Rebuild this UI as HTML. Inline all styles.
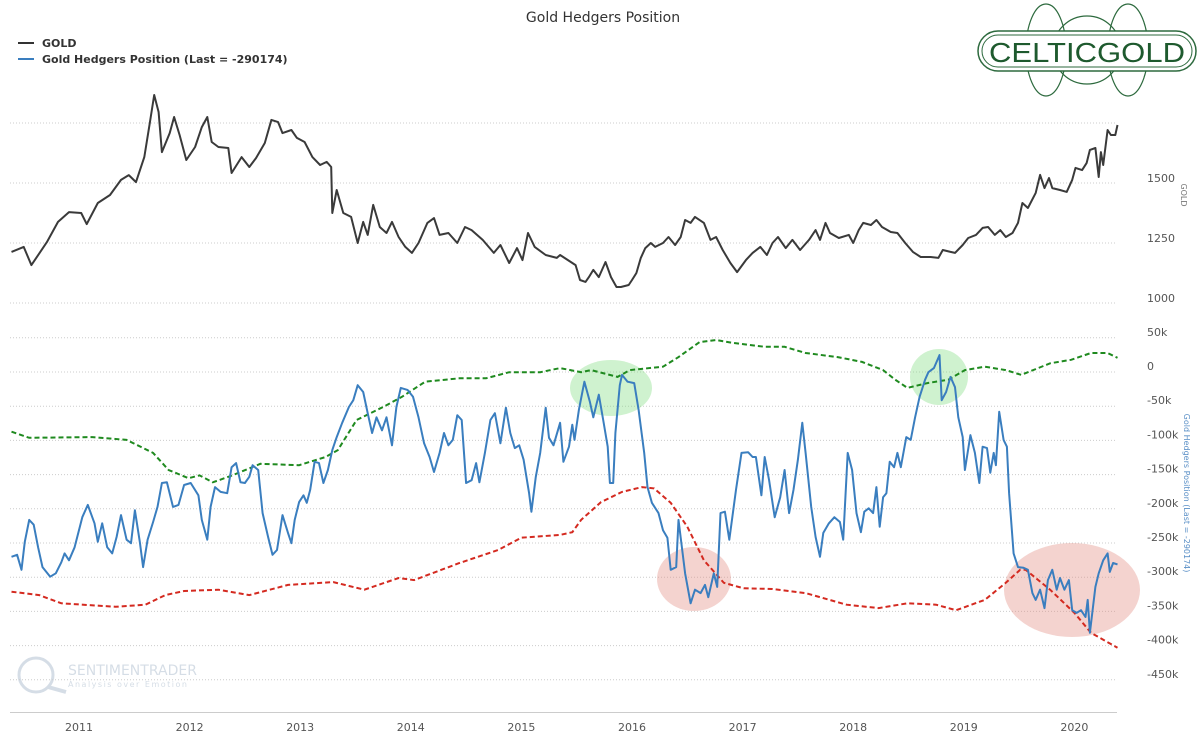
<!DOCTYPE html>
<html><head><meta charset="utf-8">
<style>
html,body{margin:0;padding:0;background:#fff;width:1200px;height:750px;overflow:hidden;font-family:"DejaVu Sans","Liberation Sans",sans-serif;}
</style></head>
<body>
<svg id="chart" width="1200" height="750" viewBox="0 0 1200 750" xmlns="http://www.w3.org/2000/svg" font-family="DejaVu Sans, Liberation Sans, sans-serif">
<text x="603" y="22" text-anchor="middle" font-size="14" fill="#333">Gold Hedgers Position</text>
<g font-size="11" font-weight="bold" fill="#333">
<g><line x1="18" y1="43" x2="34" y2="43" stroke="#333" stroke-width="2"/><text x="42" y="47">GOLD</text></g>
<g><line x1="18" y1="59" x2="34" y2="59" stroke="#3a7ebf" stroke-width="2"/><text x="42" y="63">Gold Hedgers Position (Last = -290174)</text></g>
</g>
<g>
<ellipse cx="1046" cy="50" rx="20" ry="46" fill="none" stroke="#2d6a3e" stroke-width="1.2"/>
<ellipse cx="1128" cy="50" rx="20" ry="46" fill="none" stroke="#2d6a3e" stroke-width="1.2"/>
<ellipse cx="1087" cy="50" rx="34" ry="34" fill="none" stroke="#2d6a3e" stroke-width="1.2"/>
<rect x="978" y="31" width="218" height="40" rx="20" fill="#fff" stroke="#2d6a3e" stroke-width="1.5"/>
<rect x="982" y="35" width="210" height="32" rx="16" fill="none" stroke="#2d6a3e" stroke-width="1"/>
<text x="1087" y="62" text-anchor="middle" font-family="Liberation Sans, sans-serif" font-size="28" fill="#1e5a2e" textLength="196" lengthAdjust="spacingAndGlyphs">CELTICGOLD</text>
</g>
<g opacity="0.35">
<circle cx="36" cy="675" r="17" fill="none" stroke="#8aa0b8" stroke-width="3"/>
<line x1="48" y1="687" x2="66" y2="692" stroke="#8aa0b8" stroke-width="4"/>
<text x="68" y="675" font-size="14" fill="#8aa0b8">SENTIMENTRADER</text>
<text x="68" y="687" font-size="8" fill="#8aa0b8" letter-spacing="1.5">Analysis over Emotion</text>
</g>
<g id="grid"></g>
<g id="highlights">
<ellipse cx="611" cy="388" rx="41" ry="28" fill="rgba(130,220,130,0.38)"/>
<ellipse cx="939" cy="377" rx="29" ry="28" fill="rgba(130,220,130,0.38)"/>
<ellipse cx="694" cy="579" rx="37" ry="32" fill="rgba(225,140,130,0.38)"/>
<ellipse cx="1072" cy="590" rx="68" ry="47" fill="rgba(225,140,130,0.38)"/>
</g>
<g id="series"></g>
<g id="axes" font-size="11" fill="#555"></g>
<text transform="translate(1181,195) rotate(90)" text-anchor="middle" font-size="8" fill="#777">GOLD</text>
<text transform="translate(1184,493) rotate(90)" text-anchor="middle" font-size="8" fill="#5a8fc6">Gold Hedgers Position (Last = -290174)</text>
</svg>
<script>
const goldDates=[2010.39,2010.50,2010.57,2010.71,2010.81,2010.91,2011.02,2011.07,2011.17,2011.28,2011.38,2011.45,2011.515,2011.59,2011.64,2011.68,2011.72,2011.75,2011.82,2011.86,2011.91,2011.97,2012.05,2012.11,2012.16,2012.20,2012.26,2012.35,2012.38,2012.47,2012.54,2012.60,2012.68,2012.74,2012.80,2012.84,2012.92,2012.97,2013.04,2013.11,2013.18,2013.24,2013.28,2013.29,2013.33,2013.39,2013.46,2013.52,2013.57,2013.61,2013.66,2013.72,2013.78,2013.83,2013.89,2013.95,2014.01,2014.07,2014.15,2014.21,2014.26,2014.34,2014.42,2014.49,2014.55,2014.65,2014.75,2014.81,2014.89,2014.96,2015.01,2015.06,2015.12,2015.22,2015.32,
2015.35,2015.49,2015.53,2015.58,2015.61,2015.65,2015.70,2015.76,2015.81,2015.86,2015.90,2015.97,2016.00,2016.04,2016.08,2016.12,2016.17,2016.21,2016.28,2016.33,2016.39,2016.44,2016.48,2016.53,2016.57,2016.65,2016.71,2016.76,2016.82,2016.89,2016.95,2017.03,2017.09,2017.16,2017.22,2017.27,2017.32,2017.39,2017.45,2017.52,2017.60,2017.66,2017.70,2017.75,2017.79,2017.87,2017.96,2018.00,2018.05,2018.09,2018.16,2018.21,2018.26,2018.34,2018.40,2018.47,2018.54,2018.61,2018.70,2018.77,2018.81,2018.88,2018.92,2018.99,2019.04,2019.11,2019.17,2019.22,2019.28,2019.33,2019.38,2019.44,2019.49,2019.53,2019.58,2019.65,2019.69,2019.73,2019.77,2019.80,2019.87,2019.93,2019.98,2020.01,2020.07,2020.11,2020.14,2020.19,2020.22,2020.24,2020.26,2020.30,2020.33,2020.37,2020.39];
const goldValues=[1192,1213,1137,1233,1317,1358,1354,1308,1396,1429,1492,1512,1483,1587,1729,1846,1775,1608,1687,1754,1679,1575,1629,1712,1754,1650,1629,1625,1521,1587,1546,1583,1646,1742,1733,1687,1700,1667,1650,1587,1554,1567,1546,1354,1450,1354,1338,1229,1317,1263,1388,1296,1271,1317,1254,1213,1188,1229,1313,1333,1263,1271,1229,1296,1283,1242,1188,1221,1146,1208,1158,1271,1213,1179,1167,
1179,1137,1075,1067,1087,1117,1087,1150,1087,1046,1046,1054,1075,1104,1167,1208,1229,1213,1229,1254,1221,1254,1325,1313,1338,1313,1242,1254,1200,1146,1108,1158,1188,1213,1179,1229,1254,1208,1242,1200,1242,1283,1242,1313,1271,1250,1263,1229,1283,1313,1304,1325,1296,1275,1271,1229,1192,1171,1171,1167,1200,1192,1188,1221,1250,1263,1292,1296,1263,1283,1254,1271,1313,1396,1375,1438,1513,1458,1500,1458,1450,1442,1492,1542,1533,1562,1617,1625,1504,1608,1554,1700,1679,1679,1721];
const hedgeDates=[2010.39,2010.44,2010.48,2010.51,2010.55,2010.59,2010.63,2010.67,2010.74,2010.79,2010.84,2010.87,2010.91,2010.96,2011.03,2011.08,2011.14,2011.17,2011.21,2011.255,2011.30,2011.34,2011.38,2011.43,2011.47,2011.505,2011.55,2011.58,2011.62,2011.67,2011.71,2011.75,2011.795,2011.85,2011.90,2011.95,2012.01,2012.08,2012.11,2012.16,2012.19,2012.23,2012.28,2012.34,2012.38,2012.42,2012.46,2012.50,2012.54,2012.57,2012.62,2012.66,2012.71,2012.75,2012.79,2012.84,2012.89,2012.92,2012.95,2012.99,2013.03,2013.06,2013.09,2013.13,2013.17,2013.21,2013.25,2013.29,2013.33,2013.38,2013.44,2013.48,2013.52,2013.57,2013.61,2013.65,2013.69,2013.74,2013.78,2013.83,2013.87,2013.91,2013.97,2014.02,2014.07,2014.12,2014.17,2014.21,2014.26,2014.30,2014.34,2014.38,2014.42,2014.46,2014.50,2014.55,2014.59,2014.62,2014.67,2014.72,2014.76,2014.81,2014.86,2014.90,2014.94,2014.98,2015.02,2015.07,2015.09,2015.13,2015.17,2015.22,2015.25,2015.29,
2015.35,2015.38,2015.43,2015.46,2015.48,2015.52,2015.56,2015.57,2015.62,2015.65,2015.70,2015.74,2015.78,2015.80,2015.83,2015.85,2015.89,2015.91,2015.96,2016.02,2016.06,2016.11,2016.14,2016.18,2016.24,2016.28,2016.32,2016.35,2016.40,2016.42,2016.48,2016.53,2016.57,2016.62,2016.66,2016.69,2016.74,2016.77,2016.80,2016.84,2016.88,2016.94,2016.99,2017.05,2017.09,2017.12,2017.17,2017.20,2017.24,2017.29,2017.34,2017.38,2017.42,2017.46,2017.50,2017.54,2017.57,2017.62,2017.66,2017.70,2017.73,2017.78,2017.83,2017.88,2017.91,2017.95,2017.99,2018.03,2018.07,2018.10,2018.14,2018.18,2018.21,2018.24,2018.27,2018.30,2018.33,2018.37,2018.40,2018.43,2018.48,2018.52,2018.56,2018.60,2018.65,2018.68,2018.73,2018.78,2018.80,2018.84,2018.88,2018.92,2018.95,2018.99,2019.01,2019.06,2019.10,2019.14,2019.17,2019.21,2019.24,2019.27,2019.29,2019.32,2019.36,2019.39,2019.41,2019.45,2019.49,2019.54,2019.58,2019.62,2019.65,2019.69,2019.73,2019.76,2019.80,2019.84,2019.87,2019.91,2019.95,2019.98,2020.02,2020.06,2020.10,2020.12,2020.14,2020.19,2020.22,2020.26,2020.30,2020.32,2020.35,2020.39];
const hedgeValues=[-279,-276,-298,-257,-225,-232,-265,-294,-308,-303,-287,-274,-284,-265,-221,-203,-230,-257,-230,-265,-274,-250,-218,-254,-259,-211,-257,-294,-254,-228,-206,-171,-170,-206,-203,-174,-171,-189,-225,-254,-206,-177,-184,-186,-148,-142,-170,-171,-162,-145,-152,-215,-250,-276,-269,-218,-244,-259,-225,-199,-189,-200,-181,-140,-142,-171,-152,-123,-104,-83,-60,-50,-28,-38,-69,-98,-75,-94,-75,-116,-60,-32,-35,-45,-75,-113,-133,-155,-127,-98,-116,-108,-72,-79,-171,-167,-142,-170,-127,-79,-69,-113,-61,-98,-120,-116,-137,-186,-213,-162,-127,-61,-105,-116,
-83,-140,-118,-86,-108,-64,-31,-23,-53,-75,-42,-79,-118,-171,-171,-98,-28,-13,-23,-25,-64,-127,-177,-200,-215,-240,-251,-298,-294,-225,-303,-347,-327,-332,-320,-338,-303,-323,-215,-213,-254,-181,-127,-126,-133,-133,-189,-133,-167,-221,-192,-152,-215,-181,-137,-83,-127,-206,-250,-279,-244,-230,-221,-228,-254,-127,-152,-215,-243,-213,-208,-215,-177,-235,-192,-186,-140,-148,-127,-148,-104,-108,-75,-45,-20,-9,-3,16,-50,-38,-16,-31,-75,-104,-152,-101,-127,-171,-118,-120,-156,-127,-145,-67,-108,-118,-186,-274,-294,-295,-298,-332,-342,-327,-354,-313,-298,-327,-310,-327,-313,-357,-361,-357,-367,-342,-390,-323,-303,-284,-274,-301,-288,-290];
const upperDates=[2010.39,2010.55,2011.12,2011.43,2011.67,2011.81,2011.99,2012.09,2012.21,2012.37,2012.64,2012.99,2013.23,2013.34,2013.51,2013.75,2013.92,2014.13,2014.44,2014.68,2014.89,2015.17,2015.35,2015.54,2015.63,2015.87,2015.98,2016.28,2016.42,2016.61,2016.76,2016.90,2017.20,2017.38,2017.57,2017.86,2018.08,2018.27,2018.38,2018.49,2018.67,2018.86,2019.01,2019.19,2019.38,2019.52,2019.78,2019.97,2020.15,2020.30,2020.39];
const upperValues=[-96,-105,-104,-108,-127,-152,-164,-160,-170,-161,-143,-145,-133,-123,-79,-60,-45,-23,-18,-18,-9,-9,-3,-9,-6,-16,-6,-1,13,35,38,34,28,28,19,13,6,-6,-20,-32,-25,-20,-6,-1,-6,-13,4,9,19,19,12];
const lowerDates=[2010.39,2010.64,2010.84,2011.33,2011.60,2011.78,2011.95,2012.26,2012.54,2012.89,2013.30,2013.58,2013.89,2014.03,2014.44,2014.79,2015.0,2015.35,2015.46,2015.54,2015.72,2015.91,2016.09,2016.20,2016.35,2016.50,2016.65,2016.83,2017.01,2017.27,2017.57,2017.94,2018.23,2018.49,2018.75,2018.93,2019.19,2019.38,2019.51,2019.56,2019.78,2020.00,2020.15,2020.39];
const lowerValues=[-330,-335,-347,-352,-349,-335,-329,-327,-335,-320,-316,-327,-310,-313,-288,-269,-251,-247,-243,-225,-199,-184,-177,-179,-200,-235,-284,-317,-325,-326,-332,-349,-354,-347,-349,-357,-342,-317,-298,-298,-327,-361,-390,-412];
const yearTicks=[2011,2012,2013,2014,2015,2016,2017,2018,2019,2020];
const goldTicks=[1000,1250,1500,1750];
const goldTickLabels=["1000","1250","1500",""];
const hedgeTicks=[50,0,-50,-100,-150,-200,-250,-300,-350,-400,-450];
const hedgeTickLabels=["50k","0","-50k","-100k","-150k","-200k","-250k","-300k","-350k","-400k","-450k"];

const NS="http://www.w3.org/2000/svg";
const xS=t=>79+(t-2011)*110.6;
const yG=v=>178-(v-1500)*0.24;
const yH=v=>366-v/50*34.2;
function mk(tag,attrs,parent){const e=document.createElementNS(NS,tag);for(const k in attrs)e.setAttribute(k,attrs[k]);parent.appendChild(e);return e;}
const grid=document.getElementById('grid'),series=document.getElementById('series'),axes=document.getElementById('axes');
goldTicks.forEach((v,i)=>{
  const y=yG(v)+5;
  const l=mk('line',{x1:10,x2:1117,y1:y,y2:y,stroke:'#ccc','stroke-width':1,'stroke-dasharray':'1,2'},grid);
  
  
  if(goldTickLabels[i]){const t=mk('text',{x:1147,y:yG(v)+4},axes);t.textContent=goldTickLabels[i];
  
  }
});
hedgeTicks.forEach((v,i)=>{
  const y=yH(v)+6;
  const l=mk('line',{x1:10,x2:1117,y1:y,y2:y,stroke:'#ccc','stroke-width':1,'stroke-dasharray':'1,2'},grid);
  
  
  const t=mk('text',{x:1147,y:yH(v)+4},axes);t.textContent=hedgeTickLabels[i];
  
  
});
const ax=mk('line',{x1:10,x2:1117,y1:712.5,y2:712.5,stroke:'#ccc','stroke-width':1},axes);


yearTicks.forEach(yr=>{
  const t=mk('text',{x:xS(yr),y:731,'text-anchor':'middle'},axes);t.textContent=String(yr);
  
  
});
function path(dates,vals,yf){return dates.map((d,i)=>(i?'L':'M')+xS(d).toFixed(1)+','+yf(vals[i]).toFixed(1)).join('');}
const up=mk('path',{d:path(upperDates,upperValues,yH),fill:'none',stroke:'#1f8a1f','stroke-width':2,'stroke-dasharray':'5,3'},series);


const lo=mk('path',{d:path(lowerDates,lowerValues,yH),fill:'none',stroke:'#d42a20','stroke-width':2,'stroke-dasharray':'5,3'},series);


const hl=mk('path',{d:path(hedgeDates,hedgeValues,yH),fill:'none',stroke:'#3a7ebf','stroke-width':2,'stroke-linejoin':'round'},series);


const gl=mk('path',{d:path(goldDates,goldValues,yG),fill:'none',stroke:'#3a3a3a','stroke-width':2,'stroke-linejoin':'round'},series);


</script>
</body></html>
